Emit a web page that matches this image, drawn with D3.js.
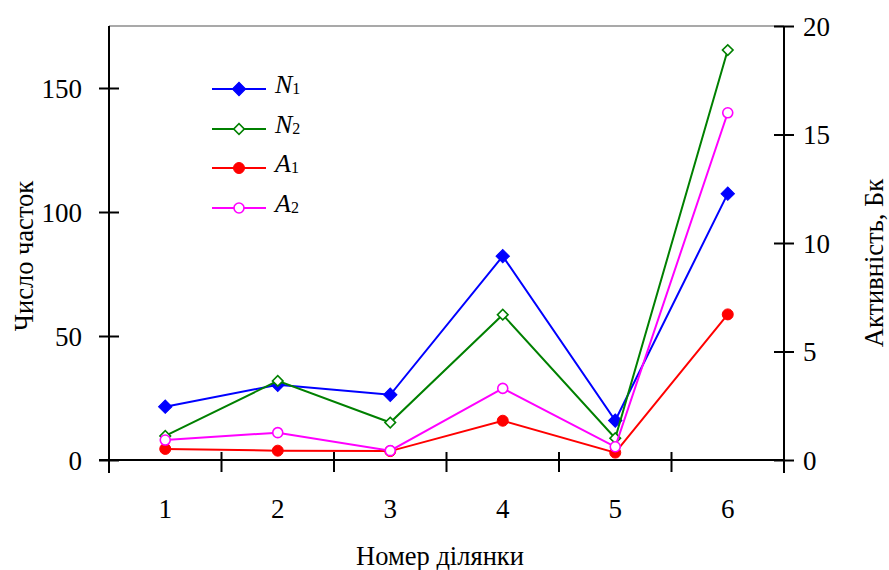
<!DOCTYPE html>
<html>
<head>
<meta charset="utf-8">
<script src="https://cdn.jsdelivr.net/npm/d3@7"></script>
<style>
  body { margin: 0; background: #fff; }
  svg text, svg tspan { font-family: 'Liberation Serif', 'Tinos', 'Times', 'Nimbus Roman', 'FreeSerif', serif; }
</style>
</head>
<body style="margin:0">
<script>
const sections = ['1', '2', '3', '4', '5', '6']
const n1 = [21.5, 30.3, 26.3, 82.2, 15.9, 107.4]
const n2 = [9.7, 31.9, 15.1, 58.6, 8.8, 165.3]
const a1 = [0.51, 0.43, 0.41, 1.81, 0.34, 6.71]
const a2 = [0.92, 1.26, 0.43, 3.30, 0.61, 16.0]
const leftTicks = [0, 50, 100, 150]
const rightTicks = [0, 5, 10, 15, 20]

const W = 889, H = 570
const plotL = 109, plotR = 784, plotT = 26, plotB = 460
const serif = "'Liberation Serif', 'Tinos', 'Times', 'Nimbus Roman', 'FreeSerif', serif"

const x = d3.scaleBand().domain(sections).range([plotL, plotR])
const yL = d3.scaleLinear().domain([0, 175]).range([plotB, plotT])
const yR = d3.scaleLinear().domain([0, 20]).range([plotB, plotT])

const svg = d3.select('body').append('svg').attr('width', W).attr('height', H)
    .style('font-family', serif)

// top frame line
svg.append('line')
    .attr('x1', plotL).attr('x2', plotR)
    .attr('y1', plotT).attr('y2', plotT)
    .attr('stroke', '#8c8c8c').attr('stroke-width', 1.5)

function serifText(sel, size) {
    sel.style('font-family', serif)
        .attr('font-size', size)
        .attr('fill', '#000')
}

// left axis
const gL = svg.append('g')
    .attr('transform', `translate(${plotL},0)`)
    .call(d3.axisLeft(yL).tickValues(leftTicks).tickSize(10).tickPadding(17))
gL.attr('font-family', null).attr('font-size', null)
gL.select('.domain').remove()
gL.selectAll('.tick line').attr('x1', 10).attr('x2', -10).attr('stroke', '#000').attr('stroke-width', 2)
gL.selectAll('.tick text').call(serifText, 27).attr('dy', '0.34em')
svg.append('line').attr('x1', plotL).attr('x2', plotL).attr('y1', plotT).attr('y2', plotB + 13)
    .attr('stroke', '#000').attr('stroke-width', 2)

// right axis
const gR = svg.append('g')
    .attr('transform', `translate(${plotR},0)`)
    .call(d3.axisRight(yR).tickValues(rightTicks).tickSize(10).tickPadding(9))
gR.attr('font-family', null).attr('font-size', null)
gR.select('.domain').remove()
gR.selectAll('.tick line').attr('x1', -10).attr('x2', 10).attr('stroke', '#000').attr('stroke-width', 2)
gR.selectAll('.tick text').call(serifText, 27).attr('dy', '0.34em')
svg.append('line').attr('x1', plotR).attr('x2', plotR).attr('y1', plotT).attr('y2', plotB + 13)
    .attr('stroke', '#000').attr('stroke-width', 2)

// bottom axis: labels at band centres, ticks at band edges
const gB = svg.append('g')
    .attr('transform', `translate(0,${plotB})`)
    .call(d3.axisBottom(x).tickSize(0).tickPadding(39))
gB.attr('font-family', null).attr('font-size', null)
gB.select('.domain').remove()
gB.selectAll('.tick text').call(serifText, 27)
svg.append('line').attr('x1', plotL - 10).attr('x2', plotR).attr('y1', plotB).attr('y2', plotB)
    .attr('stroke', '#000').attr('stroke-width', 2)
const edges = sections.map(d => x(d)).concat([x.range()[1]])
svg.selectAll('line.xedge')
    .data(edges.slice(1, -1))
    .enter().append('line')
        .attr('class', 'xedge')
        .attr('x1', d => d).attr('x2', d => d)
        .attr('y1', plotB - 8).attr('y2', plotB + 12)
        .attr('stroke', '#000').attr('stroke-width', 2)

// axis titles
svg.append('text')
    .attr('x', 440).attr('y', 565)
    .attr('text-anchor', 'middle')
    .call(serifText, 26.5)
    .text('Номер ділянки')
svg.append('text')
    .attr('transform', 'translate(33,256) rotate(-90)')
    .attr('text-anchor', 'middle')
    .call(serifText, 26.5)
    .text('Число часток')
svg.append('text')
    .attr('transform', 'translate(883,263) rotate(-90)')
    .attr('text-anchor', 'middle')
    .call(serifText, 26.5)
    .text('Активність, Бк')

const series = [
    { name: 'N', sub: '1', values: n1, scale: yL, color: '#0000ff', shape: 'diamond', filled: true },
    { name: 'N', sub: '2', values: n2, scale: yL, color: '#008000', shape: 'diamond', filled: false },
    { name: 'A', sub: '1', values: a1, scale: yR, color: '#ff0000', shape: 'circle', filled: true },
    { name: 'A', sub: '2', values: a2, scale: yR, color: '#ff00ff', shape: 'circle', filled: false }
]

function marker(g, s) {
    if (s.shape === 'diamond') {
        const size = s.filled ? 90 : 56
        g.append('path')
            .attr('d', d3.symbol().type(d3.symbolSquare).size(size)())
            .attr('transform', 'rotate(45)')
            .attr('fill', s.filled ? s.color : '#fff')
            .attr('stroke', s.color).attr('stroke-width', s.filled ? 1 : 1.6)
    } else {
        g.append('circle')
            .attr('r', s.filled ? 5.5 : 5)
            .attr('fill', s.filled ? s.color : '#fff')
            .attr('stroke', s.color).attr('stroke-width', s.filled ? 1 : 1.6)
    }
}

const cx = d => x(d) + x.bandwidth() / 2

series.forEach(s => {
    const line = d3.line()
        .x((d, i) => cx(sections[i]))
        .y(d => s.scale(d))
    svg.append('path')
        .datum(s.values)
        .attr('d', line)
        .attr('fill', 'none')
        .attr('stroke', s.color).attr('stroke-width', 2)
    s.values.forEach((v, i) => {
        const g = svg.append('g').attr('transform', `translate(${cx(sections[i])},${s.scale(v)})`)
        marker(g, s)
    })
})

// legend
const legendY = [89, 129, 168, 208]
series.forEach((s, i) => {
    const gy = legendY[i]
    svg.append('line')
        .attr('x1', 212).attr('x2', 266).attr('y1', gy).attr('y2', gy)
        .attr('stroke', s.color).attr('stroke-width', 2)
    const g = svg.append('g').attr('transform', `translate(239,${gy})`)
    marker(g, s)
    const t = svg.append('text')
        .attr('x', 275).attr('y', gy + 4)
        .call(serifText, 26)
    t.append('tspan').attr('font-style', 'italic').text(s.name)
    t.append('tspan').attr('font-size', 16).attr('dy', 1).text(s.sub)
})
</script>
</body>
</html>
